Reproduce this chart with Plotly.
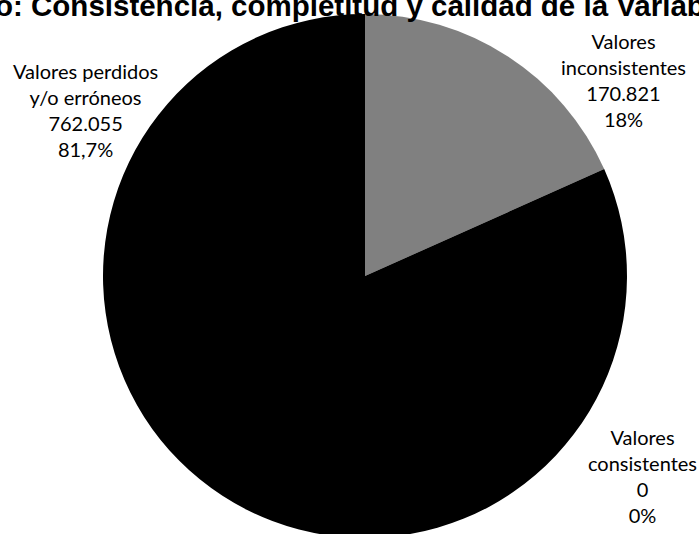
import plotly.graph_objects as go

W, H = 699, 560

categories = ["Valores inconsistentes", "Valores perdidos y/o erróneos", "Valores consistentes"]
label_lines = ["Valores<br>inconsistentes", "Valores perdidos<br>y/o erróneos", "Valores<br>consistentes"]
values = [170821, 762055, 0]
value_labels = ["170.821", "762.055", "0"]
pct_labels = ["18%", "81,7%", "0%"]
colors = ["#808080", "#000000", "#ffffff"]
title_text = "o: Consistencia, completitud y calidad de la Variable"

def px_x(x):
    return x / W

def px_y(y):
    return 1 - y / H

fig = go.Figure()
fig.add_trace(go.Pie(
    labels=categories,
    values=values,
    sort=False,
    direction="clockwise",
    rotation=0,
    marker=dict(colors=colors, line=dict(width=0)),
    textinfo="none",
    hoverinfo="label+value",
    showlegend=False,
    domain=dict(x=[px_x(103), px_x(627)], y=[px_y(538), px_y(14)]),
))

label_pos = [(623, 80), (85, 110), (642, 476)]
for i, (cx, cy) in enumerate(label_pos):
    fig.add_annotation(
        x=px_x(cx), y=px_y(cy), xref="paper", yref="paper",
        text=f"{label_lines[i]}<br>{value_labels[i]}<br>{pct_labels[i]}",
        showarrow=False, align="center", xanchor="center", yanchor="middle",
        font=dict(family="Lato, sans-serif", size=20, color="#000000"),
    )

fig.add_annotation(
    x=px_x(-7), y=px_y(24), xref="paper", yref="paper",
    text=f"<b>{title_text}</b>", showarrow=False,
    xanchor="left", yanchor="bottom",
    font=dict(family="Liberation Sans, Arial, sans-serif", size=29.5, color="#000000"),
)

fig.update_layout(
    width=W, height=H,
    margin=dict(l=0, r=0, t=0, b=0),
    paper_bgcolor="#ffffff",
    plot_bgcolor="#ffffff",
)

fig.write_html(
    "out.html",
    config={"displayModeBar": False},
    post_script="document.body.style.margin='0';document.body.style.overflow='hidden';",
)
